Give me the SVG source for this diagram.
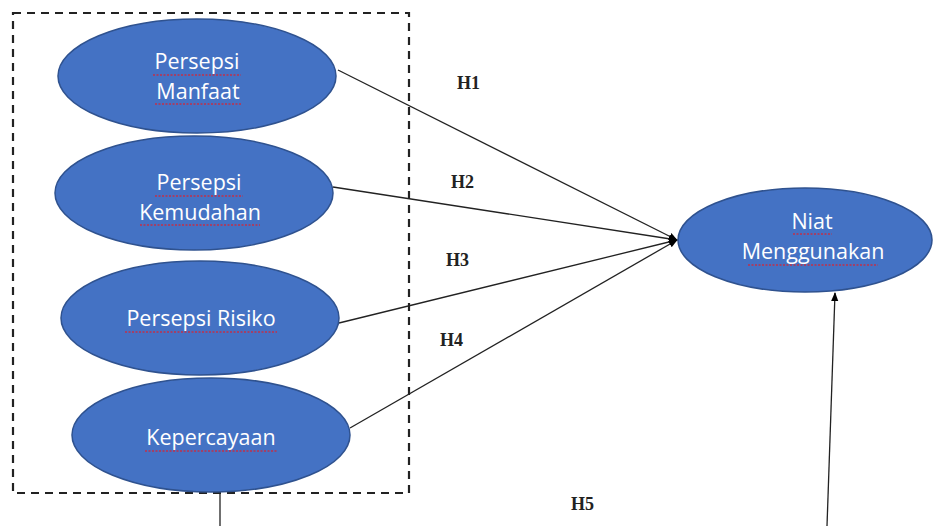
<svg xmlns="http://www.w3.org/2000/svg" width="935" height="526" viewBox="0 0 935 526">
<style>
.node ellipse{fill:#4472C4;stroke:#2F528F;stroke-width:1.5}
.lbl{font-family:"Open Sans","Liberation Sans",sans-serif;font-size:21.5px;fill:#fff;text-anchor:middle}
.sq{fill:none;stroke:#C0304A;stroke-width:1.3;stroke-dasharray:2 1.5}
.h{font-family:"Liberation Serif",serif;font-size:18px;font-weight:bold;fill:#222}
.conn line,.conn path{stroke:#222;stroke-width:1.3;fill:none}
</style>
<defs>
<marker id="ah" viewBox="0 0 10 10" refX="9" refY="5" markerWidth="7" markerHeight="7" orient="auto"><path d="M0,1 L10,5 L0,9 z" fill="#000"/></marker>
</defs>
<rect width="935" height="526" fill="#fff"/>
<rect id="box" x="13" y="13" width="396" height="480" fill="none" stroke="#222" stroke-width="2.2" stroke-dasharray="8 6"/>
<g class="conn">
<line x1="338" y1="70" x2="677" y2="240" marker-end="url(#ah)"/>
<line x1="333" y1="187" x2="677" y2="240" marker-end="url(#ah)"/>
<line x1="339" y1="323" x2="677" y2="240" marker-end="url(#ah)"/>
<line x1="350" y1="428" x2="677" y2="240" marker-end="url(#ah)"/>
<line x1="220" y1="493" x2="220" y2="526"/>
<line x1="827" y1="526" x2="835" y2="293" marker-end="url(#ah)"/>
</g>
<g id="n1" class="node"><ellipse cx="197" cy="76" rx="139" ry="57"/>
<text class="lbl" x="197" y="69">Persepsi</text><text class="lbl" x="198" y="99">Manfaat</text>
<path class="sq" d="M153,75 H241 M155,104 H241"/></g>
<g id="n2" class="node"><ellipse cx="194" cy="193" rx="139" ry="57"/>
<text class="lbl" x="199" y="190">Persepsi</text><text class="lbl" x="200" y="220">Kemudahan</text>
<path class="sq" d="M155,196 H243 M140,225 H260"/></g>
<g id="n3" class="node"><ellipse cx="200" cy="318" rx="139" ry="57"/>
<text class="lbl" x="201" y="326">Persepsi Risiko</text>
<path class="sq" d="M125,332 H277"/></g>
<g id="n4" class="node"><ellipse cx="211" cy="435" rx="139" ry="57"/>
<text class="lbl" x="211" y="445">Kepercayaan</text>
<path class="sq" d="M145,451 H277"/></g>
<g id="n5" class="node"><ellipse cx="805" cy="240" rx="127" ry="52"/>
<text class="lbl" x="812" y="229">Niat</text><text class="lbl" x="813" y="259">Menggunakan</text>
<path class="sq" d="M793,234 H832 M748,265 H878"/></g>
<g id="labels">
<text class="h" x="457" y="89">H1</text>
<text class="h" x="451" y="188">H2</text>
<text class="h" x="446" y="266">H3</text>
<text class="h" x="440" y="346">H4</text>
<text class="h" x="571" y="510">H5</text>
</g>
</svg>
